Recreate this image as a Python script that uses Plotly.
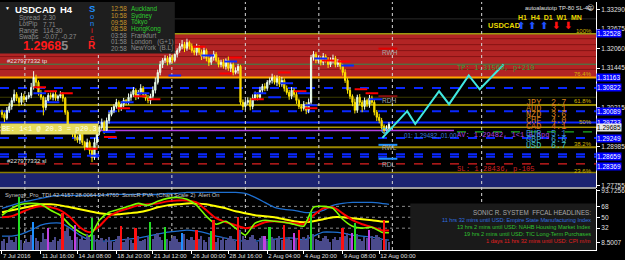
import plotly.graph_objects as go

# ---------------- data ----------------
closes = [
    1.2999, 1.2987, 1.3012, 1.3024, 1.3043, 1.3062, 1.3050, 1.3037, 1.3056, 1.3046,
    1.3053, 1.3059, 1.3084, 1.3115, 1.3100, 1.3068, 1.3053, 1.3021, 1.3043, 1.3059,
    1.3053, 1.3062, 1.3050, 1.3056, 1.3062, 1.3050, 1.3006, 1.2958, 1.2949, 1.2937,
    1.2927, 1.2918, 1.2937, 1.2911, 1.2896, 1.2911, 1.2886, 1.2864, 1.2911, 1.2943,
    1.2958, 1.2974, 1.2949, 1.2980, 1.2999, 1.3012, 1.3024, 1.3037, 1.3018, 1.3031,
    1.3043, 1.3037, 1.3053, 1.3062, 1.3075, 1.3056, 1.3068, 1.3081, 1.3062, 1.3050,
    1.3043, 1.3056, 1.3075, 1.3100, 1.3131, 1.3156, 1.3169, 1.3175, 1.3163, 1.3178,
    1.3169, 1.3188, 1.3200, 1.3213, 1.3219, 1.3207, 1.3225, 1.3213, 1.3200, 1.3194,
    1.3210, 1.3194, 1.3181, 1.3200, 1.3175, 1.3163, 1.3178, 1.3188, 1.3169, 1.3156,
    1.3163, 1.3150, 1.3169, 1.3144, 1.3156, 1.3131, 1.3137, 1.3150, 1.3037, 1.3024,
    1.3037, 1.3043, 1.3024, 1.3050, 1.3062, 1.3053, 1.3075, 1.3087, 1.3081, 1.3100,
    1.3106, 1.3115, 1.3100, 1.3112, 1.3094, 1.3106, 1.3081, 1.3068, 1.3056, 1.3075,
    1.3062, 1.3043, 1.3024, 1.3018, 1.3031, 1.3012, 1.3037, 1.3178, 1.3188, 1.3169,
    1.3175, 1.3163, 1.3181, 1.3169, 1.3156, 1.3169, 1.3175, 1.3156, 1.3163, 1.3150,
    1.3131, 1.3106, 1.3075, 1.3056, 1.3037, 1.3012, 1.3053, 1.3037, 1.3024, 1.3043,
    1.3031, 1.3050, 1.3037, 1.3006, 1.2990, 1.2980, 1.2962, 1.2949, 1.2955, 1.2968,
]
first_open = 1.3006
upper_wick_pips = [
    8, 6, 10, 12, 9, 15, 7, 5, 11, 8,   6, 10, 14, 20, 9, 6, 8, 5, 10, 7,
    9, 6, 8, 5, 10, 7, 4, 6, 9, 5,      8, 6, 10, 7, 5, 12, 6, 8, 15, 10,
    7, 12, 6, 9, 8, 10, 7, 11, 6, 9,    8, 5, 12, 9, 10, 6, 8, 13, 7, 5,
    10, 8, 12, 15, 9, 11, 7, 10, 8, 12, 9, 11, 7, 10, 14, 8, 12, 6, 9, 10,
    11, 7, 9, 12, 6, 10, 8, 11, 7, 9,   8, 10, 6, 12, 9, 7, 10, 8, 5, 9,
    7, 10, 8, 12, 9, 6, 11, 8, 10, 7,   9, 12, 7, 10, 8, 11, 6, 9, 8, 10,
    7, 9, 6, 8, 10, 7, 12, 8, 10, 7,    9, 8, 11, 7, 10, 9, 12, 8, 10, 6,
    8, 10, 7, 9, 6, 12, 8, 10, 7, 9,    6, 10, 8, 9, 7, 11, 8, 6, 10, 7,
]
lower_wick_pips = [
    10, 12, 6, 8, 10, 7, 9, 12, 8, 10,  8, 6, 9, 7, 12, 10, 8, 25, 9, 6,
    7, 10, 8, 9, 6, 11, 8, 12, 10, 9,   11, 8, 12, 9, 10, 7, 13, 15, 8, 10,
    9, 7, 11, 8, 10, 6, 9, 7, 12, 8,    10, 9, 7, 11, 8, 12, 9, 6, 10, 8,
    9, 12, 8, 10, 7, 9, 11, 8, 10, 7,   8, 6, 10, 7, 9, 12, 8, 10, 7, 9,
    10, 8, 11, 7, 9, 12, 8, 10, 6, 9,   9, 7, 10, 8, 12, 9, 6, 10, 8, 11,
    10, 8, 12, 9, 7, 10, 8, 11, 9, 8,   8, 10, 7, 12, 9, 8, 10, 7, 11, 9,
    9, 11, 8, 10, 7, 12, 9, 8, 10, 9,   8, 10, 9, 7, 11, 8, 10, 9, 8, 10,
    10, 8, 11, 9, 12, 10, 8, 9, 18, 10, 9, 11, 8, 10, 12, 9, 10, 12, 8, 9,
]
volume = [
    14, 18, 10, 22, 16, 12, 20, 87, 15, 11,  17, 13, 24, 46, 19, 14, 12, 28, 18, 36,
    12, 16, 20, 14, 18, 61, 30, 34, 22, 16,  41, 20, 18, 22, 16, 26, 20, 52, 24, 18,
    15, 19, 13, 17, 21, 14, 12, 18, 23, 39,  13, 17, 20, 15, 11, 36, 22, 14, 16, 18,
    21, 46, 18, 24, 28, 20, 16, 38, 17, 14,  19, 23, 17, 13, 28, 25, 18, 15, 21, 16,
    33, 18, 22, 16, 12, 20, 30, 49, 13, 19,  16, 21, 15, 19, 23, 18, 14, 54, 32, 22,
    18, 15, 20, 24, 17, 13, 19, 22, 23, 14,  38, 20, 15, 19, 23, 16, 41, 18, 21, 15,
    28, 19, 33, 16, 20, 15, 24, 62, 26, 18,  16, 14, 19, 22, 17, 13, 18, 21, 15, 20,
    36, 23, 27, 19, 28, 44, 25, 17, 14, 20,  19, 33, 22, 18, 24, 20, 16, 48, 18, 12,
]
pva_idx = [7, 13, 19, 25, 30, 37, 49, 55, 61, 67, 74, 80, 86, 87, 97, 108, 110, 116, 120, 122, 127, 140, 144, 145, 151, 157]
pva_kind = ["g", "b", "p", "r", "p", "g", "r", "r", "g", "g", "b", "r", "g", "r", "r", "p", "g", "r", "p", "r", "g", "r", "p", "g", "p", "r"]

tdi_x = [0, 4, 8, 12, 16, 20, 24, 28, 32, 36, 40, 44, 48, 52, 56, 60, 64, 68, 72, 76,
         80, 84, 88, 92, 96, 100, 104, 108, 112, 116, 120, 124, 128, 132, 136, 140, 144, 148, 152, 156, 159]
rsi_line = [53.3, 64.7, 71.3, 72.9, 71.3, 61.5, 53.3, 36.9, 25.4, 18.9, 45.1, 58.2, 63.1, 68.0, 72.9, 69.6,
            76.2, 81.1, 82.7, 79.5, 69.6, 51.6, 38.5, 43.4, 32.0, 20.5, 40.2, 45.1, 43.4, 41.8, 38.5, 35.3,
            66.4, 68.0, 64.7, 46.7, 35.3, 32.0, 33.6, 25.4, 24.5]
signal_line = [50.0, 51.6, 58.2, 64.7, 68.0, 66.4, 61.5, 50.0, 33.6, 25.4, 35.3, 51.6, 59.8, 64.7, 69.6, 71.3,
               72.9, 76.2, 77.8, 77.8, 74.5, 61.5, 48.4, 41.8, 36.9, 32.0, 35.3, 41.8, 43.4, 41.8, 40.2, 38.5,
               53.3, 64.7, 66.4, 56.5, 45.1, 38.5, 33.6, 28.7, 28.0]
base_line = [58.2, 61.5, 64.7, 68.0, 71.3, 71.3, 69.6, 66.4, 63.1, 59.8, 56.5, 54.9, 54.9, 56.5, 58.2, 61.5,
             66.4, 69.6, 71.3, 72.9, 72.9, 71.3, 68.0, 64.7, 59.8, 56.5, 53.3, 51.6, 50.0, 46.7, 43.4, 41.8,
             43.4, 46.7, 50.0, 50.0, 48.4, 46.7, 45.1, 43.0, 42.4]
upper_band = [64.7, 69.6, 74.5, 77.8, 81.1, 84.4, 86.0, 86.0, 86.0, 86.0, 86.0, 87.6, 87.6, 87.6, 87.6, 87.6,
              87.6, 89.3, 89.3, 90.9, 90.9, 90.9, 90.9, 90.9, 90.9, 89.3, 82.7, 74.5, 66.4, 63.1, 61.5, 58.2,
              58.2, 61.5, 69.6, 72.9, 74.5, 74.5, 74.5, 72.9, 71.3]
lower_band = [18.9, 18.9, 22.2, 28.7, 36.9, 40.2, 40.2, 32.0, 20.5, 12.4, 10.7, 10.7, 12.4, 14.0, 15.6, 18.9,
              22.2, 25.4, 27.1, 28.7, 27.1, 23.8, 18.9, 15.6, 12.4, 10.7, 10.7, 12.4, 14.0, 15.6, 15.6, 12.4,
              18.9, 25.4, 25.4, 23.8, 20.5, 18.9, 17.3, 14.0, 12.4]

red_mark_bar = [15.5, 20, 26.5, 36.7, 44.5, 50, 56.7, 62.5, 81, 92, 96, 105, 116, 122.5, 127, 134, 140.5, 147.5, 152]
red_mark_price = [1.30842, 1.30718, 1.30655, 1.28909, 1.29283, 1.30188, 1.30562, 1.30468, 1.32121, 1.31279,
                  1.31778, 1.30468, 1.31310, 1.30718, 1.30188, 1.31684, 1.31653, 1.30780, 1.30655]
blue_mark_bar = [15.5, 21, 37.5, 44, 51.5, 58, 71, 84.5, 94, 106, 112, 117, 124, 127, 131, 142, 153.5]
blue_mark_price = [1.30655, 1.30375, 1.28691, 1.29439, 1.30375, 1.30655, 1.31217, 1.31840, 1.31653, 1.30655,
                   1.30530, 1.30967, 1.30655, 1.30281, 1.31747, 1.31528, 1.30468]

proj_bar = [156.3, 166.5, 169.8, 179.6, 183.7, 191.8, 196.3, 206.1]
proj_price = [1.29252, 1.30094, 1.29689, 1.30718, 1.30312, 1.31217, 1.30780, 1.31560]

time_labels = ["7 Jul 2016", "11 Jul 16:00", "14 Jul 08:00", "18 Jul 20:00", "21 Jul 12:00", "26 Jul 00:00",
               "28 Jul 16:00", "2 Aug 04:00", "4 Aug 20:00", "9 Aug 08:00", "12 Aug 00:00"]
label_bars = [0, 16, 31, 47, 62, 78, 93, 109, 124, 140, 155]
price_ticks = [1.33290, 1.32675, 1.32060, 1.31445, 1.30830, 1.30215, 1.29600, 1.28985, 1.28370, 1.27755]
covered_ticks = [1.30830, 1.29600, 1.28370]
ind_ticks = [93.7256, 68, 50, 32, 8.5007]
ind_tick_text = ["93.7256", "68", "50", "32", "8.5007"]

lvl100, lvl764, lvl618, lvl50, lvl382, lvl236 = 1.32528, 1.31150, 1.30290, 1.29733, 1.28960, 1.28161
tp_price, sl_price, av_price = 1.31569, 1.28436, 1.29482
blue_dash_levels = [1.30822, 1.30089, 1.29249, 1.28740, 1.28659]
red_zone_lines = [1.32370, 1.32183, 1.31996, 1.31809, 1.31404]
axis_box_prices = [1.32528, 1.31163, 1.30822, 1.30089, 1.29733, 1.29249, 1.28659, 1.28369]
bid_price = 1.29685

currencies = ["JPY", "AUD", "NZD", "CHF", "CAD", "EUR", "GBP", "USD"]
strength = [2.7, 3.1, 3.6, 4.0, 4.1, 5.1, 6.6, 6.7]
sep_bars = [9.4, 39.6, 69.8, 100, 130.2, 160.4, 197.1]

# ---------------- derived OHLC ----------------
opens = [first_open] + closes[:-1]
highs = [max(o, c) + u * 0.0001 for o, c, u in zip(opens, closes, upper_wick_pips)]
lows = [min(o, c) - w * 0.0001 for o, c, w in zip(opens, closes, lower_wick_pips)]
bars = list(range(len(closes)))

SANS = "Liberation Sans"
MONO = "Liberation Mono"
W_PX, H_PX = 600.0, 250.0   # plot area in pixels

fig = go.Figure()

# volume histogram (PVA)
kind_color = {"g": "#22dd22", "r": "#ff1010", "b": "#1e90ff", "p": "#c040e0"}
vcols = ["#4a4a8c"] * len(volume)
for i, k in zip(pva_idx, pva_kind):
    vcols[i] = kind_color[k]
fig.add_trace(go.Bar(x=bars, y=volume, marker=dict(color=vcols, line=dict(width=0)), width=0.7,
                     xaxis="x", yaxis="y3"))

for arr, col, w in [(upper_band, "#1e6fd0", 1.3), (lower_band, "#1e6fd0", 1.3), (base_line, "#ffff00", 2),
                    (signal_line, "#ff0000", 2), (rsi_line, "#7cfc00", 1.6)]:
    fig.add_trace(go.Scatter(x=tdi_x, y=arr, mode="lines", line=dict(color=col, width=w, shape="spline", smoothing=0.6),
                             xaxis="x", yaxis="y2"))

# candles
fig.add_trace(go.Candlestick(
    x=bars, open=opens, high=highs, low=lows, close=closes,
    increasing=dict(line=dict(color="#f0fff0", width=1), fillcolor="#a8f0a0"),
    decreasing=dict(line=dict(color="#ffe800", width=1), fillcolor="#ffb000"),
    xaxis="x", yaxis="y"))

fig.add_trace(go.Scatter(x=red_mark_bar, y=red_mark_price, mode="markers",
                         marker=dict(symbol="line-ew", size=9, line=dict(color="#ff0000", width=2)),
                         xaxis="x", yaxis="y"))
fig.add_trace(go.Scatter(x=blue_mark_bar, y=blue_mark_price, mode="markers",
                         marker=dict(symbol="line-ew", size=9, line=dict(color="#0a28ff", width=2)),
                         xaxis="x", yaxis="y"))
fig.add_trace(go.Scatter(x=proj_bar, y=proj_price, mode="lines", line=dict(color="#40e8e0", width=2),
                         xaxis="x", yaxis="y"))
fig.add_trace(go.Scatter(x=[proj_bar[0] + 0.8], y=[av_price], mode="markers",
                         marker=dict(symbol="circle-open", size=5, color="#40c0ff", line=dict(width=1)),
                         xaxis="x", yaxis="y"))

shapes = []


def hline(price, color, width=1, dash="solid", x0=0.0, x1=1.0, layer="below"):
    shapes.append(dict(type="line", xref="paper", yref="y", x0=x0, x1=x1, y0=price, y1=price,
                       line=dict(color=color, width=width, dash=dash), layer=layer))


def prect(x0, y0, x1, y1, color, layer="above"):
    shapes.append(dict(type="rect", xref="paper", yref="paper", x0=x0 / W_PX, x1=x1 / W_PX,
                       y0=1 - y1 / H_PX, y1=1 - y0 / H_PX, fillcolor=color, line=dict(width=0), layer=layer))


def pline(x0, y0, x1, y1, color, width=1, dash="solid", layer="above"):
    shapes.append(dict(type="line", xref="paper", yref="paper", x0=x0 / W_PX, x1=x1 / W_PX,
                       y0=1 - y0 / H_PX, y1=1 - y1 / H_PX, line=dict(color=color, width=width, dash=dash), layer=layer))


# zones
shapes.append(dict(type="rect", xref="paper", yref="y", x0=0, x1=1, y0=lvl764, y1=lvl100,
                   fillcolor="#b22424", line=dict(width=0), layer="below"))
for p in red_zone_lines:
    hline(p, "#861414", 1)
shapes.append(dict(type="rect", xref="paper", yref="y", x0=0, x1=1, y0=1.27693, y1=lvl236,
                   fillcolor="#1c2472", line=dict(width=0), layer="below"))
pline(0, 17, 600, 17, "#2a2a2a", 1, layer="below")

# levels
hline(lvl100, "#9a9a10", 1.5)
hline(tp_price, "#2e8b4e", 1)
hline(lvl764, "#ffa500", 2)
hline(1.30530, "#3c3c00", 1)
hline(lvl618, "#c8b400", 1.5)
hline(lvl50, "#0a28ff", 2)
hline(1.29590, "#a89400", 1.5)
hline(av_price, "#b040e0", 1.5, x1=457 / W_PX)
hline(1.29440, "#20b020", 1.2, "dash", x0=460 / W_PX)
hline(lvl382, "#9c8800", 2)
hline(sl_price, "#e02020", 1.2, "dash")
hline(lvl236, "#8a7c00", 1.5)
for p in blue_dash_levels:
    hline(p, "#0a28ff", 2, "dash")

# R levels short marks
pline(381, 47, 400, 47, "#e00000", 2)
pline(381, 95, 400, 95, "#8b1010", 2)
pline(381, 144, 400, 144, "#1e90ff", 2)
pline(381, 158, 400, 158, "#1e90ff", 2)

# period separators
for b in sep_bars:
    shapes.append(dict(type="line", xref="x", yref="paper", x0=b, x1=b, y0=0, y1=1,
                       line=dict(color="#d8d8d8", width=1, dash="dot"), layer="below"))

# indicator levels
for v in [68, 50, 32]:
    shapes.append(dict(type="line", xref="paper", yref="y2", x0=0, x1=1, y0=v, y1=v,
                       line=dict(color="#8a8a8a", width=1, dash="dot"), layer="below"))

# panels
prect(0, 0, 176, 52, "#1e1e1e")
prect(413, 203, 600, 250, "#1a1a1a")
pline(0, 187.5, 600, 187.5, "#d0d0d0", 1.5)

annotations = []


def note(x, y, text, color, size=6.5, family=SANS, xanchor="left", bg=None):
    a = dict(x=x / W_PX, y=1 - y / H_PX, xref="paper", yref="paper", text=text, showarrow=False,
             xanchor=xanchor, yanchor="middle", font=dict(color=color, size=size, family=family))
    if bg:
        a.update(bgcolor=bg, borderpad=1)
    annotations.append(a)


GRAY = "#8c8c8c"
# top-left info panel
note(3, 6, "▼", "#ffffff", 5)
note(13, 8, "<b>USDCAD</b>", "#ffffff", 9.5)
note(58, 8, "<b>H4</b>", "#ffffff", 9.5)
for y, k, v in [(16, "Spread", "2.30"), (22.5, "LotPip", "7.71"), (29, "Range", "114.30"), (35, "Swaps", "-0.07, -0.27")]:
    note(17, y, k, GRAY, 6.5)
    note(41, y, v, GRAY, 6.5)
note(21, 44, "<b>1.2968</b><span style='color:#8a8a8a'><b>5</b></span>", "#ff1a1a", 12.5)
for y, ch, col, sz in [(7, "<b>S</b>", "#1e90ff", 9.5), (15, "o", "#1e90ff", 7.5), (22, "n", "#1e90ff", 7.5),
                       (29, "i", "#ff2020", 7.5), (36, "c", "#ff2020", 7.5), (44, "<b>R</b>", "#ff2020", 10)]:
    note(93, y, ch, col, sz, xanchor="center")
times = ["12:58", "10:58", "09:58", "08:58", "03:58", "01:58", "20:58"]
cities = ["Auckland", "Sydney", "Tokyo", "HongKong", "Frankfurt", "London   (G+1)", "NewYork  (B.L)"]
for k, (t, c) in enumerate(zip(times, cities)):
    y = [7, 14, 20.5, 27, 34, 40, 46.5][k]
    note(110, y, t, "#c8962a" if k < 4 else GRAY, 6.3)
    note(130, y, c, "#2ecc2e" if k < 4 else GRAY, 6.3)

# top-right
note(527, 6, "autoalautotp TP-80 SL-40", "#e0e0e0", 5.8)
note(594, 6, "☺", "#e0e0e0", 7, "DejaVu Sans", "center")
note(519, 15.5, "<b>H1  H4  D1  W1  MN</b>", "#e8d800", 7)
note(489, 24, "<b>USDCAD</b>", "#e8d800", 7.5)
for x in [524, 536, 548]:
    note(x, 24, "<b>⬆</b>", "#1e50ff", 10, "DejaVu Sans", "center")
for x in [560, 572]:
    note(x, 24, "<b>⬇</b>", "#ff1010", 10, "DejaVu Sans", "center")

# fibo % labels
for y, t in [(29, "100%"), (73, "76.4%"), (100, "61.8%"), (121, "50%"), (143, "38.2%"), (170, "23.6%")]:
    note(598, y, t, "#d4b400", 6, xanchor="right")

# R labels
for y, t in [(51, "RWH"), (99, "RDH"), (147, "RWL"), (164, "RDL")]:
    note(383, y, t, "#a8a8a8", 6.5)

note(458, 67, f"TP: {tp_price:.5f}, p+210", "#3a9a3a", 7.2, MONO)
note(458, 168, f"SL: {sl_price:.5f}, p-105", "#d42020", 7.2, MONO)
note(405, 135, f"01: {av_price:.5f}, 01.00", "#3c78dc", 6.3)
note(458, 134, f"AV: {av_price:.5f}, 1&lt;1 5.6pg", "#b040e0", 7, MONO)
ccols = ["#d8801e", "#d8801e", "#d8801e", "#d8801e", "#e06a1e", "#3a8ad0", "#40a8c8", "#40c8c8"]
for k, (c, s) in enumerate(zip(currencies, strength)):
    y = [102, 108, 114, 120, 126, 133, 139, 145][k]
    note(528, y, c, ccols[k], 8.5, MONO)
    note(553, y, f"{s:.1f}", ccols[k], 8.5, MONO)

note(5, 59, "#227977332 tp", "#e0e0e0", 6)
note(5, 160, "#227977332 sl", "#e0e0e0", 6)
note(0, 128.5, "BE: 1&lt;1 @ 20.3 = p20.3", "#fffff0", 7.2, MONO, bg="#e6dc5a")

# right axis boxes
for p in axis_box_prices:
    annotations.append(dict(x=1.0, y=p, xref="paper", yref="y", text=f"{p:.5f}", showarrow=False,
                            xanchor="left", yanchor="middle", bgcolor="#0000ff", borderpad=0,
                            font=dict(color="#ffffff", size=6.5, family=SANS)))
annotations.append(dict(x=1.0, y=bid_price, xref="paper", yref="y", yshift=-3, text=f"{bid_price:.5f}",
                        showarrow=False, xanchor="left", yanchor="middle", bgcolor="#e8e8e8", borderpad=0,
                        font=dict(color="#000000", size=6.5, family=SANS)))

# indicator texts
note(3, 194.5, "Synergy_Pro_TDI 42.4157 28.0064 24.4760  SonicR PVA  (Chart Scale 2)  Alert On", "#c8c8c8", 5.8)
note(597, 212.5, "SONIC R. SYSTEM  FFCAL HEADLINES:", "#a8a8a8", 6.3, xanchor="right")
for y, t, c in [(219.5, "11 hrs 32 mins until USD: Empire State Manufacturing Index", "#3070e0"),
                (226.5, "13 hrs 2 mins until USD: NAHB Housing Market Index", "#30c030"),
                (233.5, "19 hrs 2 mins until USD: TIC Long-Term Purchases", "#30c030"),
                (240.5, "1 days 11 hrs 32 mins until USD: CPI m/m", "#e02020")]:
    note(597, y, t, c, 5.6, xanchor="right")

price_tick_text = ["" if v in covered_ticks else f"{v:.5f}" for v in price_ticks]

fig.update_layout(
    width=625, height=260, margin=dict(l=0, r=25, t=0, b=10),
    paper_bgcolor="#000000", plot_bgcolor="#000000", showlegend=False,
    shapes=shapes, annotations=annotations, bargap=0,
    xaxis=dict(domain=[0, 1], range=[-0.816, 244.08], anchor="y2", showgrid=False, zeroline=False,
               tickvals=label_bars, ticktext=time_labels, ticks="outside", ticklen=3, tickcolor="#ffffff",
               tickangle=0, ticklabelposition="outside right",
               tickfont=dict(color="#e0e0e0", size=6, family=SANS),
               showline=True, linecolor="#ffffff", linewidth=1, rangeslider=dict(visible=False)),
    yaxis=dict(domain=[0.252, 1], range=[1.27693, 1.33524], side="right", anchor="x", showgrid=False,
               zeroline=False, tickvals=price_ticks, ticktext=price_tick_text,
               ticks="outside", ticklen=3, tickcolor="#ffffff", showline=True, linecolor="#ffffff",
               tickfont=dict(color="#e0e0e0", size=6.5, family=SANS)),
    yaxis2=dict(domain=[0, 0.244], range=[-4, 95.8], side="right", anchor="x", showgrid=False,
                zeroline=False, tickvals=ind_ticks, ticktext=ind_tick_text, ticks="outside", ticklen=3,
                tickcolor="#ffffff", showline=True, linecolor="#ffffff",
                tickfont=dict(color="#e0e0e0", size=6.5, family=SANS)),
    yaxis3=dict(overlaying="y2", range=[0, 100], visible=False),
)

fig.write_html("out.html")
